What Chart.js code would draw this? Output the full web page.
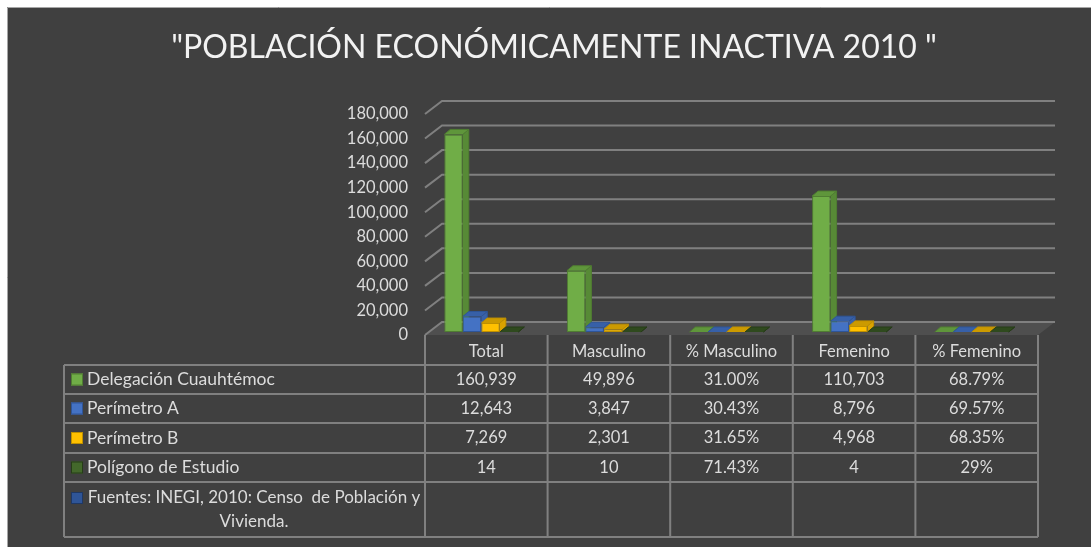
<!DOCTYPE html>
<html lang="es">
<head>
  <meta charset="UTF-8">
  <title>Población económicamente inactiva 2010</title>
  <script src="https://cdn.jsdelivr.net/npm/chart.js"></script>
  <style>
    html, body {
      margin: 0;
      padding: 0;
      background: #ffffff;
    }

    .chart-container {
      position: relative;
      width: 1091px;
      height: 547px;
    }
  </style>
</head>
<body>
  <div class="chart-container">
    <canvas id="pobChart"></canvas>
  </div>

  <script>
    // data
    const titleText = '"POBLACIÓN ECONÓMICAMENTE INACTIVA 2010 "';
    const categories = ['Total', 'Masculino', '% Masculino', 'Femenino', '% Femenino'];
    const seriesNames = ['Delegación Cuauhtémoc', 'Perímetro A', 'Perímetro B', 'Polígono de Estudio'];
    const delegacion = [160939, 49896, 0.31, 110703, 0.6879];
    const perimetroA = [12643, 3847, 0.3043, 8796, 0.6957];
    const perimetroB = [7269, 2301, 0.3165, 4968, 0.6835];
    const poligono = [14, 10, 0.7143, 4, 0.29];
    const delegacionText = ['160,939', '49,896', '31.00%', '110,703', '68.79%'];
    const perimetroAText = ['12,643', '3,847', '30.43%', '8,796', '69.57%'];
    const perimetroBText = ['7,269', '2,301', '31.65%', '4,968', '68.35%'];
    const poligonoText = ['14', '10', '71.43%', '4', '29%'];
    const sourceNote = ['Fuentes: INEGI, 2010: Censo  de Población y', 'Vivienda.'];
    const yTicks = { min: 0, max: 180000, step: 20000 };

    // styles
    const FONT = 'Lato, "Open Sans", sans-serif';
    const TEXT = '#dcdcdc';
    const LINE = '#808080';
    const faces = [
      { front: '#70ad47', edge: '#507e32', side: '#578a36', top: '#5f963b' },
      { front: '#4472c4', edge: '#2f5597', side: '#3a62a8', top: '#3760a8' },
      { front: '#ffc000', edge: '#bf9000', side: '#d9a300', top: '#cc9a00' },
      { front: '#43682b', edge: '#263c18', side: '#2e481d', top: '#2f4a1e' }
    ];
    const noteKey = { front: '#2f5597', edge: '#1f3864' };

    const SHIFT = 5;                 // floor / table sit a little right of the bar slots
    const WALL_DX = 17, WALL_DY = 13; // depth of the back wall
    const BAR_DX = 6, BAR_DY = 5;     // depth of each column
    const rowEdges = [335, 365, 394, 423, 453, 482, 537];

    function poly(ctx, pts, fill) {
      ctx.beginPath();
      ctx.moveTo(pts[0][0], pts[0][1]);
      for (let i = 1; i < pts.length; i++) ctx.lineTo(pts[i][0], pts[i][1]);
      ctx.closePath();
      ctx.fillStyle = fill;
      ctx.fill();
    }

    function key(ctx, f, cy) {
      ctx.fillStyle = f.front;
      ctx.fillRect(71, cy - 6, 12, 12);
      ctx.strokeStyle = f.edge;
      ctx.lineWidth = 1;
      ctx.strokeRect(71.5, cy - 5.5, 11, 11);
    }

    const panel3d = {
      id: 'panel3d',
      beforeDraw(chart) {
        const ctx = chart.ctx;
        ctx.save();
        ctx.fillStyle = '#ffffff';
        ctx.fillRect(0, 0, chart.width, chart.height);
        ctx.fillStyle = '#404040';
        ctx.fillRect(7, 7, chart.width - 7, chart.height - 7);
        ctx.strokeStyle = '#a6a6a6';
        ctx.lineWidth = 1;
        ctx.beginPath();
        ctx.moveTo(7.5, chart.height);
        ctx.lineTo(7.5, 7.5);
        ctx.lineTo(chart.width, 7.5);
        ctx.stroke();
        ctx.restore();
      },
      beforeDatasetsDraw(chart) {
        const ctx = chart.ctx;
        const x = chart.scales.x, y = chart.scales.y;
        const fl = x.left + SHIFT, fr = x.right + SHIFT;
        const y0 = y.getPixelForValue(0);
        ctx.save();
        // floor
        poly(ctx, [[fl, y0 + 3], [fl + WALL_DX, y0 + 3 - WALL_DY], [fr + WALL_DX, y0 + 3 - WALL_DY], [fr, y0 + 3]], '#4f4f4f');
        // back wall grid with the slanted side wall stubs
        ctx.strokeStyle = LINE;
        ctx.lineWidth = 2;
        y.ticks.forEach(t => {
          const yp = y.getPixelForValue(t.value) + 3;
          ctx.beginPath();
          ctx.moveTo(fl, yp);
          ctx.lineTo(fl + WALL_DX, yp - WALL_DY);
          ctx.lineTo(fr + WALL_DX, yp - WALL_DY);
          ctx.stroke();
        });
        // side and top faces of the columns, fronts are drawn by Chart.js
        chart.data.datasets.forEach((ds, d) => {
          const f = faces[d];
          chart.getDatasetMeta(d).data.forEach(el => {
            const p = el.getProps(['x', 'y', 'base', 'width'], true);
            const l = p.x - p.width / 2, r = p.x + p.width / 2;
            const top = Math.min(p.y, p.base), bot = Math.max(p.y, p.base);
            poly(ctx, [[r, top], [r + BAR_DX, top - BAR_DY], [r + BAR_DX, bot - BAR_DY], [r, bot]], f.side);
            poly(ctx, [[l, top], [l + BAR_DX, top - BAR_DY], [r + BAR_DX, top - BAR_DY], [r, top]], f.top);
            ctx.strokeStyle = f.edge;
            ctx.lineWidth = 1;
            ctx.beginPath();
            ctx.moveTo(l, top);
            ctx.lineTo(l + BAR_DX, top - BAR_DY);
            ctx.lineTo(r + BAR_DX, top - BAR_DY);
            ctx.lineTo(r + BAR_DX, bot - BAR_DY);
            ctx.lineTo(r, bot);
            ctx.moveTo(r, top);
            ctx.lineTo(r + BAR_DX, top - BAR_DY);
            ctx.stroke();
          });
        });
        ctx.restore();
      },
      afterDraw(chart) {
        const ctx = chart.ctx;
        const x = chart.scales.x;
        const cw = (x.right - x.left) / categories.length;
        const colX = i => x.left + SHIFT + i * cw;
        const left = 64, right = colX(categories.length);
        ctx.save();

        // title
        ctx.fillStyle = '#f2f2f2';
        ctx.font = '32px ' + FONT;
        ctx.textAlign = 'center';
        ctx.textBaseline = 'middle';
        ctx.fillText(titleText, 554, 48);

        // data table grid
        ctx.strokeStyle = LINE;
        ctx.lineWidth = 2;
        ctx.beginPath();
        for (let i = 0; i <= categories.length; i++) {
          ctx.moveTo(colX(i), rowEdges[0]);
          ctx.lineTo(colX(i), rowEdges[rowEdges.length - 1]);
        }
        ctx.moveTo(left, rowEdges[1]);
        ctx.lineTo(left, rowEdges[rowEdges.length - 1]);
        for (let r = 1; r < rowEdges.length; r++) {
          ctx.moveTo(left, rowEdges[r]);
          ctx.lineTo(right, rowEdges[r]);
        }
        ctx.stroke();

        ctx.font = '16.5px ' + FONT;
        ctx.fillStyle = TEXT;
        ctx.textAlign = 'center';
        categories.forEach((c, i) => ctx.fillText(c, colX(i) + cw / 2, 352));

        const rows = [delegacionText, perimetroAText, perimetroBText, poligonoText];
        rows.forEach((vals, r) => {
          const cy = (rowEdges[r + 1] + rowEdges[r + 2]) / 2;
          ctx.font = '16.5px ' + FONT;
          ctx.fillStyle = TEXT;
          ctx.textAlign = 'center';
          vals.forEach((v, i) => ctx.fillText(v, colX(i) + cw / 2, cy));
          key(ctx, faces[r], cy);
          ctx.font = '17.5px ' + FONT;
          ctx.fillStyle = TEXT;
          ctx.textAlign = 'left';
          ctx.fillText(seriesNames[r], 87, cy);
        });

        // source note row
        const ny = rowEdges[5] + 16;
        key(ctx, noteKey, ny);
        ctx.font = '17px ' + FONT;
        ctx.fillStyle = TEXT;
        ctx.textAlign = 'center';
        const mid = (87 + colX(0) - 4) / 2;
        ctx.fillText(sourceNote[0], mid, ny);
        ctx.fillText(sourceNote[1], mid, ny + 24);
        ctx.restore();
      }
    };

    const ctx = document.getElementById('pobChart').getContext('2d');
    new Chart(ctx, {
      type: 'bar',
      data: {
        labels: categories,
        datasets: [delegacion, perimetroA, perimetroB, poligono].map((vals, i) => ({
          label: seriesNames[i],
          data: vals,
          backgroundColor: faces[i].front,
          borderColor: faces[i].edge,
          borderWidth: 1,
          borderSkipped: false
        }))
      },
      options: {
        responsive: true,
        maintainAspectRatio: false,
        animation: false,
        layout: {
          padding: { top: 111, left: 0, right: 58, bottom: 215 }
        },
        datasets: {
          bar: { categoryPercentage: 0.604, barPercentage: 1 }
        },
        scales: {
          x: {
            display: false
          },
          y: {
            min: yTicks.min,
            max: yTicks.max,
            afterFit: s => { s.width = 420; },
            grid: { display: false, drawTicks: false },
            border: { display: false },
            ticks: {
              stepSize: yTicks.step,
              padding: 12,
              labelOffset: 3,
              color: TEXT,
              font: { size: 16.5, family: FONT },
              callback: v => v.toLocaleString('en-US')
            }
          }
        },
        plugins: {
          legend: { display: false },
          tooltip: { enabled: false }
        }
      },
      plugins: [panel3d]
    });
  </script>
</body>
</html>
